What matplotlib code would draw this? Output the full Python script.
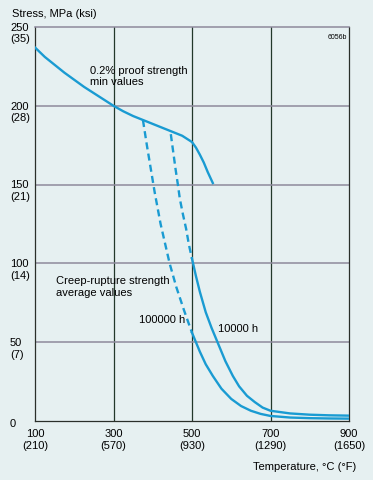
import matplotlib
matplotlib.use("Agg")
import matplotlib.pyplot as plt
from matplotlib.transforms import blended_transform_factory

plt.rcParams['font.family'] = ['Liberation Sans', 'DejaVu Sans']

# 0.2% proof strength, min values
proof_T = [100, 125, 150, 175, 200, 225, 250, 275, 300, 325, 350, 375, 400,
           425, 450, 475, 500, 510, 520, 530, 540, 553]
proof_S = [237, 231, 226, 221, 216.5, 212, 208, 204, 200, 196.5, 193.5, 191,
           188.5, 186, 183.5, 181, 177, 173.5, 169, 164, 158, 151]

# creep-rupture 100000 h
r100k_dash_T = [375, 385, 395, 405, 420, 443, 460, 480, 500]
r100k_dash_S = [191, 175, 160, 145, 125, 100, 85, 70, 56]
r100k_T = [500, 510, 520, 535, 553, 575, 600, 625, 650, 675, 700, 750, 800, 850, 900]
r100k_S = [56, 50, 44, 36, 28.6, 20.5, 14, 9.5, 6.5, 4.5, 3.2, 2.2, 1.8, 1.6, 1.5]

# creep-rupture 10000 h
r10k_dash_T = [446, 452, 458, 464, 469, 477, 485, 492, 500]
r10k_dash_S = [182, 171, 160, 150, 141, 131, 122, 112, 103]
r10k_T = [500, 510, 520, 535, 550, 565, 585, 604, 620, 640, 660, 680, 700,
          750, 800, 850, 900]
r10k_S = [103, 92, 82, 69, 59, 50, 38, 28.6, 22, 16, 12, 8.5, 6.5, 4.8, 4, 3.6, 3.4]

x_ticks = [100, 300, 500, 700, 900]
x_labels = ['100\n(210)', '300\n(570)', '500\n(930)', '700\n(1290)', '900\n(1650)']
y_ticks = [0, 50, 100, 150, 200, 250]
y_labels = ['0', '50\n(7)', '100\n(14)', '150\n(21)', '200\n(28)', '250\n(35)']

bg = '#e6f0f1'
blue = '#1a9bd2'
hgrid = '#8e8a9c'
vgrid = '#22382a'

fig = plt.figure(figsize=(3.73, 4.81), dpi=100, facecolor=bg)
ax = fig.add_axes([35 / 373, 1 - 422 / 481, 314 / 373, 394 / 481])
ax.set_facecolor(bg)
ax.set_xlim(100, 900)
ax.set_ylim(0, 250)

for t in x_ticks[1:-1]:
    ax.axvline(t, color=vgrid, lw=0.9, zorder=1)
for s in y_ticks[1:-1]:
    ax.axhline(s, color=hgrid, lw=1.1, zorder=1)

for side in ['left', 'right', 'bottom']:
    ax.spines[side].set_color('#2a2f2a')
    ax.spines[side].set_linewidth(0.9)
ax.spines['top'].set_color(hgrid)
ax.spines['top'].set_linewidth(1.1)
ax.set_xticks([])
ax.set_yticks([])

ax.plot(proof_T, proof_S, color=blue, lw=1.7, zorder=3)
ax.plot(r100k_dash_T, r100k_dash_S, color=blue, lw=1.7, ls=(0, (3, 1.8)), zorder=3)
ax.plot(r100k_T, r100k_S, color=blue, lw=1.7, zorder=3)
ax.plot(r10k_dash_T, r10k_dash_S, color=blue, lw=1.7, ls=(0, (3, 1.8)), zorder=3)
ax.plot(r10k_T, r10k_S, color=blue, lw=1.7, zorder=3)

fs = 8
ax.text(240, 226, '0.2% proof strength\nmin values', fontsize=fs, va='top', ha='left')
ax.text(153, 92.5, 'Creep-rupture strength\naverage values', fontsize=fs, va='top', ha='left')
ax.text(365, 64.7, '100000 h', fontsize=fs, va='center', ha='left')
ax.text(566, 59, '10000 h', fontsize=fs, va='center', ha='left')
ax.text(0.995, 0.975, '6056b', fontsize=5, va='center', ha='right', transform=ax.transAxes)

ytr = blended_transform_factory(fig.transFigure, ax.transData)
for s, lab in zip(y_ticks, y_labels):
    off = 1.5 if s == 0 else 3.5
    ax.text(10 / 373, s - off, lab, fontsize=fs, va='center', ha='left',
            transform=ytr, linespacing=1.2)

xtr = blended_transform_factory(ax.transData, fig.transFigure)
for t, lab in zip(x_ticks, x_labels):
    ax.text(t, 1 - 429 / 481, lab, fontsize=fs, va='top', ha='center',
            transform=xtr, linespacing=1.2, clip_on=False)

fig.text(12 / 373, 1 - 14 / 481, 'Stress, MPa (ksi)', fontsize=fs, va='center', ha='left')
fig.text(356 / 373, 1 - 467 / 481, 'Temperature, °C (°F)', fontsize=fs, va='center', ha='right')

fig.savefig('out.png', dpi=100, facecolor=bg)
